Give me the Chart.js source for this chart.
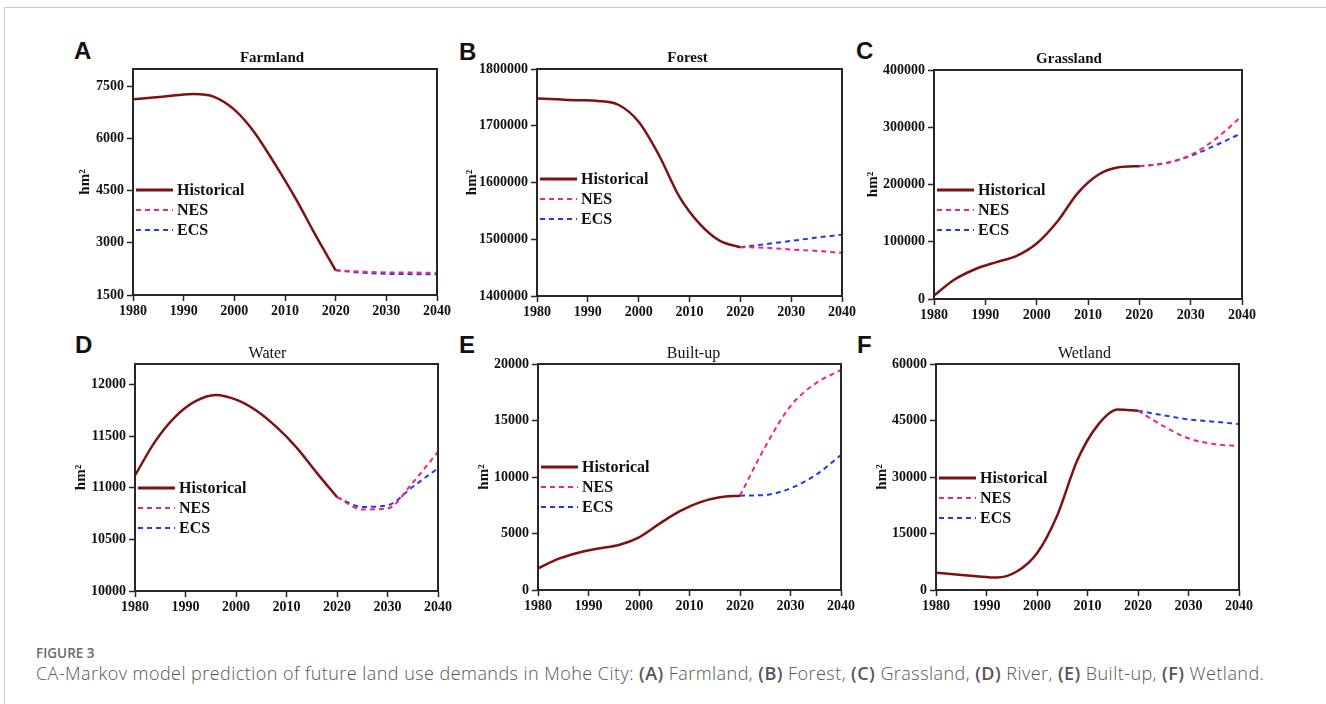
<!DOCTYPE html>
<html>
<head>
<meta charset="utf-8">
<script src="https://cdn.jsdelivr.net/npm/chart.js@4.4.1/dist/chart.umd.min.js"></script>
<style>
  body { margin: 0; width: 1326px; height: 704px; background: #fff; position: relative; overflow: hidden; }
  .frame { position: absolute; left: 4px; top: 7px; right: 0; bottom: 0; border-top: 1px solid #cacaca; border-left: 1px solid #cacaca; }
  canvas { position: absolute; }
  .letter { position: absolute; font: bold 24px 'Liberation Sans', Arial, sans-serif; line-height: 24px; color: #111; }
  .fig { position: absolute; left: 36px; top: 644px; font: 600 13.5px 'Open Sans', sans-serif; color: #6a6a6a; line-height: 18px; }
  .caption { position: absolute; left: 36px; top: 661px; font: 300 18px 'Open Sans', sans-serif; letter-spacing: 0.45px; color: #555; white-space: nowrap; line-height: 24px; }
  .caption b { font-weight: 600; }
</style>
</head>
<body>
<div class="frame"></div>
<div class="letter" style="left:74px;top:39px">A</div>
<div class="letter" style="left:459px;top:40px">B</div>
<div class="letter" style="left:856px;top:39px">C</div>
<div class="letter" style="left:75px;top:333px">D</div>
<div class="letter" style="left:459px;top:333px">E</div>
<div class="letter" style="left:857px;top:333px">F</div>

<canvas id="farmland"></canvas>
<canvas id="forest"></canvas>
<canvas id="grassland"></canvas>
<canvas id="water"></canvas>
<canvas id="builtup"></canvas>
<canvas id="wetland"></canvas>

<div class="fig">FIGURE 3</div>
<div class="caption">CA-Markov model prediction of future land use demands in Mohe City: <b>(A)</b> Farmland, <b>(B)</b> Forest, <b>(C)</b> Grassland, <b>(D)</b> River, <b>(E)</b> Built-up, <b>(F)</b> Wetland.</div>

<script>
// years
const histYears = [1980, 1984, 1988, 1992, 1996, 2000, 2004, 2008, 2012, 2016, 2020];
const futureYears = [2020, 2025, 2030, 2035, 2040];
const yearTicks = [1980, 1990, 2000, 2010, 2020, 2030, 2040];

// A farmland
const farmlandHist = [7130, 7180, 7235, 7280, 7200, 6830, 6170, 5270, 4300, 3230, 2210];
const farmlandNES = [2210, 2170, 2150, 2145, 2140];
const farmlandECS = [2210, 2145, 2110, 2100, 2095];
const farmlandTicks = [1500, 3000, 4500, 6000, 7500];

// B forest
const forestHist = [1748000, 1746500, 1745000, 1743800, 1737000, 1707000, 1648000, 1575000, 1527000, 1497000, 1486000];
const forestNES = [1486000, 1485000, 1482000, 1479500, 1476000];
const forestECS = [1486000, 1491500, 1497000, 1503000, 1508000];
const forestTicks = [1400000, 1500000, 1600000, 1700000, 1800000];

// C grassland
const grassHist = [6000, 34000, 52000, 64000, 75000, 97000, 135000, 185000, 217000, 230000, 232000];
const grassNES = [232000, 237000, 251500, 280500, 320000];
const grassECS = [232000, 237000, 250000, 269000, 290000];
const grassTicks = [0, 100000, 200000, 300000, 400000];

// D water
const waterHist = [11120, 11450, 11690, 11840, 11900, 11855, 11750, 11590, 11390, 11145, 10910];
const waterNES = [10910, 10790, 10800, 11050, 11350];
const waterECS = [10910, 10815, 10830, 11010, 11190];
const waterTicks = [10000, 10500, 11000, 11500, 12000];

// E built-up
const builtHist = [1920, 2750, 3300, 3680, 3980, 4660, 5850, 6950, 7750, 8200, 8350];
const builtNES = [8350, 12680, 16280, 18290, 19470];
const builtECS = [8350, 8410, 9000, 10180, 11950];
const builtTicks = [0, 5000, 10000, 15000, 20000];

// F wetland
const wetHist = [4600, 4100, 3650, 3300, 4900, 9740, 19800, 34500, 43700, 47900, 47600];
const wetNES = [47600, 43540, 40280, 38760, 38230];
const wetECS = [47600, 46400, 45300, 44700, 44070];
const wetTicks = [0, 15000, 30000, 45000, 60000];

const seriesNames = ['Historical', 'NES', 'ECS'];
const colors = { hist: '#7e1212', nes: '#f2237a', ecs: '#2038f5' };

const pts = (xs, ys) => xs.map((x, i) => ({ x: x, y: ys[i] }));

Chart.defaults.font.family = "'Liberation Serif', 'Times New Roman', serif";
Chart.defaults.color = '#111';

const panelDecor = {
  id: 'panelDecor',
  afterDraw(chart, args, opts) {
    const { ctx, chartArea: a } = chart;
    ctx.save();
    ctx.strokeStyle = '#262626';
    ctx.lineWidth = 2;
    ctx.strokeRect(a.left, a.top, a.right - a.left, a.bottom - a.top);

    ctx.fillStyle = '#111';
    ctx.font = (opts.bold ? 'bold 15px' : '16px') + " 'Liberation Serif', serif";
    ctx.textAlign = 'center';
    ctx.textBaseline = 'middle';
    ctx.fillText(opts.title, (a.left + a.right) / 2 + opts.titleDx, a.top - 10.5);

    ctx.font = "bold 16px 'Liberation Serif', serif";
    ctx.textAlign = 'left';
    chart.data.datasets.forEach((ds, i) => {
      const y = a.top + opts.legendY + i * 20;
      ctx.beginPath();
      ctx.setLineDash(ds.borderDash || []);
      ctx.strokeStyle = ds.borderColor;
      ctx.lineWidth = i === 0 ? 3 : 2;
      ctx.moveTo(a.left + 3, y);
      ctx.lineTo(a.left + 40, y);
      ctx.stroke();
      ctx.setLineDash([]);
      ctx.fillText(ds.label, a.left + 44, y + 1);
    });
    ctx.restore();
  }
};

// plot rect in page px, y-axis width, title offset, legend offset
const panels = [
  { id: 'farmland', title: 'Farmland', bold: true, hist: farmlandHist, nes: farmlandNES, ecs: farmlandECS, ticks: farmlandTicks,
    min: 1500, max: 8000, L: 133, T: 69, R: 437, B: 295, yW: 57, titleDx: -13, legendY: 121 },
  { id: 'forest', title: 'Forest', bold: true, hist: forestHist, nes: forestNES, ecs: forestECS, ticks: forestTicks,
    min: 1400000, max: 1800000, L: 537, T: 69, R: 842, B: 296, yW: 74, titleDx: -2, legendY: 110 },
  { id: 'grassland', title: 'Grassland', bold: true, hist: grassHist, nes: grassNES, ecs: grassECS, ticks: grassTicks,
    min: 0, max: 400000, L: 934, T: 70, R: 1242, B: 299, yW: 70, titleDx: -19, legendY: 120 },
  { id: 'water', title: 'Water', bold: false, hist: waterHist, nes: waterNES, ecs: waterECS, ticks: waterTicks,
    min: 10000, max: 12200, L: 135, T: 364, R: 438, B: 591, yW: 63, titleDx: -19, legendY: 124 },
  { id: 'builtup', title: 'Built-up', bold: false, hist: builtHist, nes: builtNES, ecs: builtECS, ticks: builtTicks,
    min: 0, max: 20000, L: 538, T: 364, R: 841, B: 590, yW: 63, titleDx: 4, legendY: 103 },
  { id: 'wetland', title: 'Wetland', bold: false, hist: wetHist, nes: wetNES, ecs: wetECS, ticks: wetTicks,
    min: 0, max: 60000, L: 936, T: 364, R: 1239, B: 590, yW: 63, titleDx: -3, legendY: 114 }
];

const tickFont = { weight: 'bold', size: 14 };

panels.forEach(p => {
  const cv = document.getElementById(p.id);
  const w = p.R - p.L + p.yW + 22;
  const h = p.B - p.T + 40 + 26;
  cv.width = w; cv.height = h;
  cv.style.left = (p.L - p.yW) + 'px';
  cv.style.top = (p.T - 40) + 'px';

  new Chart(cv, {
    type: 'line',
    data: {
      datasets: [
        { label: seriesNames[0], data: pts(histYears, p.hist), borderColor: colors.hist, borderWidth: 2.5 },
        { label: seriesNames[1], data: pts(futureYears, p.nes), borderColor: colors.nes, borderWidth: 2, borderDash: [5, 4] },
        { label: seriesNames[2], data: pts(futureYears, p.ecs), borderColor: colors.ecs, borderWidth: 2, borderDash: [5, 4] }
      ]
    },
    options: {
      responsive: false,
      animation: false,
      devicePixelRatio: 1,
      elements: { point: { radius: 0 }, line: { cubicInterpolationMode: 'monotone', fill: false } },
      layout: { padding: { top: 40, right: 22, left: 0, bottom: 2 } },
      plugins: {
        legend: { display: false },
        tooltip: { enabled: false },
        panelDecor: { title: p.title, bold: p.bold, titleDx: p.titleDx, legendY: p.legendY }
      },
      scales: {
        x: {
          type: 'linear', min: 1980, max: 2040,
          afterBuildTicks: s => { s.ticks = yearTicks.map(v => ({ value: v })); },
          ticks: { callback: v => String(v), font: tickFont, color: '#111', padding: 2, maxRotation: 0, autoSkip: false },
          grid: { drawOnChartArea: false, tickLength: 6, color: '#262626', tickWidth: 1.5 },
          border: { color: '#262626', width: 2 },
          afterFit: s => { s.height = 24; }
        },
        y: {
          min: p.min, max: p.max,
          afterBuildTicks: s => { s.ticks = p.ticks.map(v => ({ value: v })); },
          ticks: { callback: v => String(v), font: tickFont, color: '#111', padding: 3, autoSkip: false },
          grid: { drawOnChartArea: false, tickLength: 6, color: '#262626', tickWidth: 1.5 },
          border: { color: '#262626', width: 2 },
          title: { display: true, text: 'hm²', font: { weight: 'bold', size: 15 }, color: '#111', padding: 0 },
          afterFit: s => { s.width = p.yW; }
        }
      }
    },
    plugins: [panelDecor]
  });
});
</script>
</body>
</html>
